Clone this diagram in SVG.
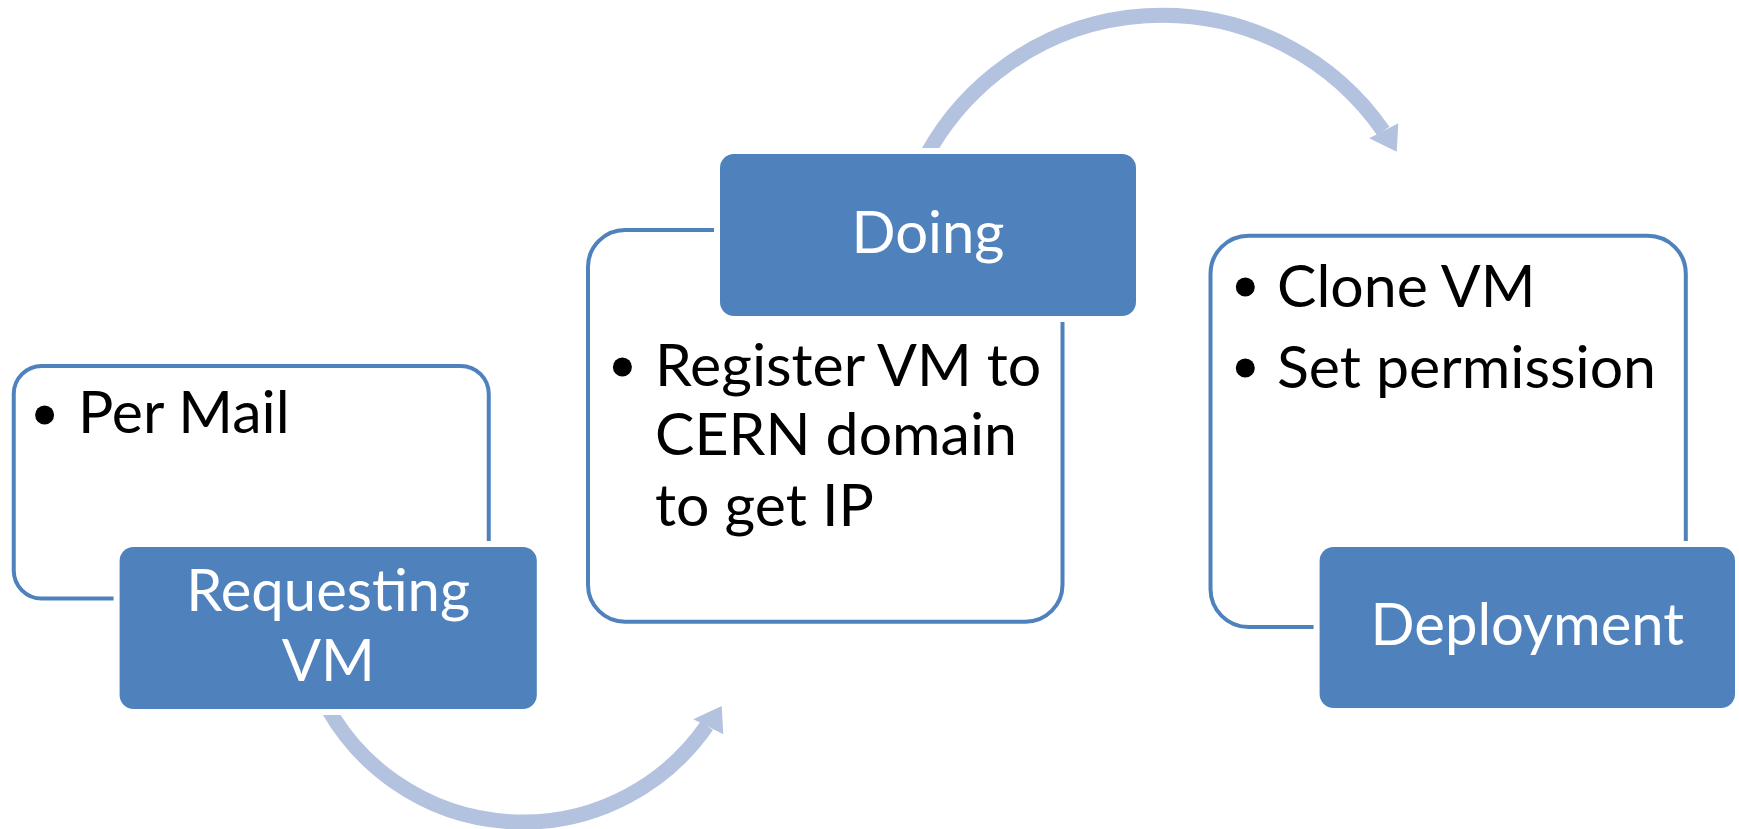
<svg xmlns="http://www.w3.org/2000/svg" width="1739" height="829" viewBox="0 0 1739 829">
  <defs>
    <style>
      .outer { fill: #FFFFFF; stroke: #4F81BD; stroke-width: 4; }
      .head { fill: #4F81BD; stroke: #FFFFFF; stroke-width: 12; paint-order: stroke; }
      .arc { fill: none; stroke: #B3C2DE; stroke-width: 15; stroke-linecap: butt; }
      .arrowhead { fill: #B3C2DE; }
      .body { font-family: Lato, "Liberation Sans", sans-serif; font-size: 59px; fill: #000000; }
      .title { font-family: Lato, "Liberation Sans", sans-serif; font-size: 58px; fill: #FFFFFF; text-anchor: middle; }
      .bullet { fill: #000000; }
    </style>
    <clipPath id="clipLower"><rect x="0" y="714" width="1739" height="115"/></clipPath>
    <clipPath id="clipUpper"><rect x="0" y="0" width="1739" height="148.3"/></clipPath>
  </defs>
  <rect x="0" y="0" width="1739" height="829" fill="#FFFFFF"/>

  <g id="connectors">
    <path class="arc" clip-path="url(#clipLower)" d="M 325.4 704 A 224 224 0 0 0 706.8 725.8"/>
    <polygon class="arrowhead" points="721.7,706 693.3,719.3 723.3,734.3"/>
    <path class="arc" clip-path="url(#clipUpper)" d="M 924 160 A 268.7 268.7 0 0 1 1383.3 131"/>
    <polygon class="arrowhead" points="1396.7,151.7 1369.3,138.3 1398.3,123.3"/>
  </g>

  <g id="node-requesting">
    <rect class="outer" x="13.75" y="366" width="475" height="232.5" rx="28" ry="28"/>
    <circle class="bullet" cx="44.6" cy="415" r="9.5"/>
    <text class="body" x="78" y="433">Per Mail</text>
    <rect class="head" x="119.6" y="547" width="417.2" height="162" rx="14" ry="14"/>
    <text class="title" x="328.2" y="611">Requesting</text>
    <text class="title" x="328.2" y="681">VM</text>
  </g>

  <g id="node-doing">
    <rect class="outer" x="588" y="230" width="474.5" height="391.7" rx="37" ry="37"/>
    <rect class="head" x="720" y="154" width="416" height="162" rx="14" ry="14"/>
    <text class="title" x="928" y="253">Doing</text>
    <circle class="bullet" cx="622.4" cy="367" r="9.5"/>
    <text class="body" x="655" y="386">Register VM to</text>
    <text class="body" x="655" y="455">CERN domain</text>
    <text class="body" x="655" y="526">to get IP</text>
  </g>

  <g id="node-deployment">
    <rect class="outer" x="1210.5" y="235.7" width="475.3" height="391.3" rx="38" ry="38"/>
    <circle class="bullet" cx="1245.3" cy="287" r="9.5"/>
    <text class="body" x="1277" y="307">Clone VM</text>
    <circle class="bullet" cx="1245.3" cy="368" r="9.5"/>
    <text class="body" x="1277" y="388">Set permission</text>
    <rect class="head" x="1319.6" y="547" width="415.4" height="161" rx="14" ry="14"/>
    <text class="title" x="1527.3" y="645">Deployment</text>
  </g>
</svg>
